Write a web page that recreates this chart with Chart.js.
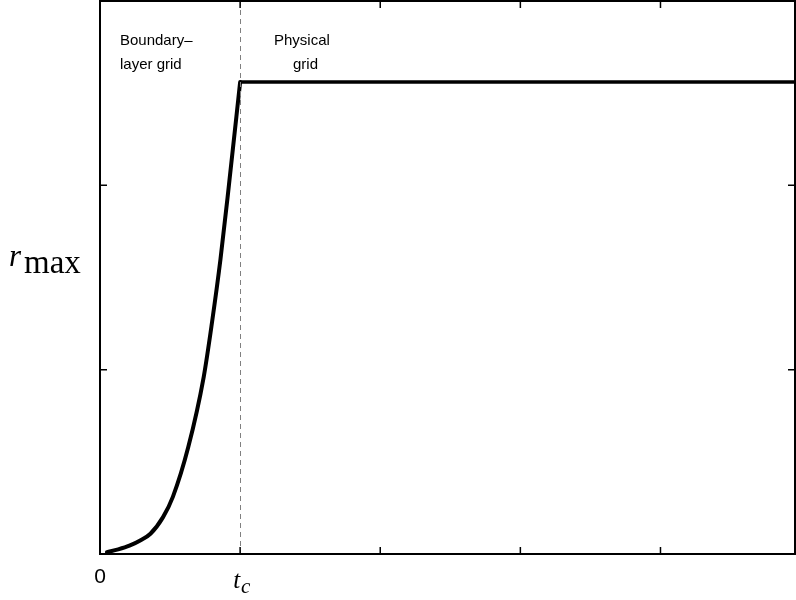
<!DOCTYPE html>
<html>
<head>
<meta charset="utf-8">
<script src="https://cdn.jsdelivr.net/npm/chart.js@4.4.1/dist/chart.umd.min.js"></script>
<style>
  html, body { margin: 0; padding: 0; background: #fff; }
  #wrap { width: 796px; height: 600px; }
</style>
</head>
<body>
<div id="wrap"><canvas id="rmax-chart" width="796" height="600"></canvas></div>
<script>
// rise of r_max on the boundary-layer grid
const riseT = [0.05, 0.13, 0.21, 0.29, 0.36, 0.45, 0.52, 0.63, 0.74, 0.80, 0.86, 0.92, 1.0];
const riseR = [0.01, 0.025, 0.045, 0.075, 0.11, 0.20, 0.31, 0.58, 0.96, 1.26, 1.60, 2.00, 2.56];
// flat part on the physical grid
const plateauT = [1.0, 4.96];
const plateauR = [2.56, 2.56];
// axes
const xTicks = [1, 2, 3, 4];
const yTicks = [1, 2];
const xTickLabels = [{ value: 0, text: '0' }, { value: 1, text: 't', sub: 'c' }];
const tc = 1;

document.addEventListener('DOMContentLoaded', function () {
    const ctxEl = document.getElementById('rmax-chart');

    const framePlugin = {
        id: 'frame',
        afterDraw(chart) {
            const ctx = chart.ctx;
            const area = chart.chartArea;
            const xs = chart.scales.x;
            const ys = chart.scales.y;
            ctx.save();

            // dashed line at t_c
            const xc = Math.round(xs.getPixelForValue(tc)) + 0.5;
            ctx.strokeStyle = '#808080';
            ctx.lineWidth = 1;
            ctx.setLineDash([5, 4]);
            ctx.beginPath();
            ctx.moveTo(xc, area.top);
            ctx.lineTo(xc, area.bottom);
            ctx.stroke();
            ctx.setLineDash([]);

            // box
            ctx.strokeStyle = '#000';
            ctx.lineWidth = 2;
            ctx.strokeRect(area.left, area.top, area.right - area.left, area.bottom - area.top);

            // inward ticks on all sides
            ctx.lineWidth = 1.5;
            const len = 7;
            ctx.beginPath();
            xTicks.forEach(v => {
                const px = xs.getPixelForValue(v);
                ctx.moveTo(px, area.bottom);
                ctx.lineTo(px, area.bottom - len);
                ctx.moveTo(px, area.top);
                ctx.lineTo(px, area.top + len);
            });
            yTicks.forEach(v => {
                const py = ys.getPixelForValue(v);
                ctx.moveTo(area.left, py);
                ctx.lineTo(area.left + len, py);
                ctx.moveTo(area.right, py);
                ctx.lineTo(area.right - len, py);
            });
            ctx.stroke();

            // x tick labels
            ctx.fillStyle = '#000';
            ctx.textBaseline = 'alphabetic';
            xTickLabels.forEach(l => {
                const px = xs.getPixelForValue(l.value);
                if (l.sub) {
                    ctx.font = 'italic 25px "Liberation Serif", "DejaVu Serif", serif';
                    ctx.textAlign = 'right';
                    ctx.fillText(l.text, px, area.bottom + 34);
                    ctx.font = 'italic 21px "Liberation Serif", "DejaVu Serif", serif';
                    ctx.textAlign = 'left';
                    ctx.fillText(l.sub, px + 1, area.bottom + 39);
                } else {
                    ctx.font = '21px "Liberation Sans", Arial, sans-serif';
                    ctx.textAlign = 'center';
                    ctx.fillText(l.text, px, area.bottom + 29);
                }
            });

            // y axis title r_max
            ctx.textAlign = 'left';
            ctx.font = 'italic 31px "Liberation Serif", "DejaVu Serif", serif';
            ctx.fillText('r', 9, 266);
            ctx.font = '33px "Liberation Serif", "DejaVu Serif", serif';
            ctx.fillText('max', 24, 273);

            // region notes
            ctx.font = '15px "Liberation Sans", Arial, sans-serif';
            ctx.fillText('Boundary\u2013', 120, 45);
            ctx.fillText('layer grid', 120, 69);
            ctx.fillText('Physical', 274, 45);
            ctx.fillText('grid', 293, 69);

            ctx.restore();
        }
    };

    new Chart(ctxEl, {
        type: 'line',
        data: {
            datasets: [{
                label: 'boundary-layer grid',
                data: riseT.map((t, i) => ({ x: t, y: riseR[i] })),
                borderColor: '#000',
                borderWidth: 4,
                pointRadius: 0,
                cubicInterpolationMode: 'monotone',
                borderCapStyle: 'round',
                fill: false
            }, {
                label: 'physical grid',
                data: plateauT.map((t, i) => ({ x: t, y: plateauR[i] })),
                borderColor: '#000',
                borderWidth: 3.5,
                pointRadius: 0,
                tension: 0,
                fill: false
            }]
        },
        options: {
            responsive: false,
            animation: false,
            layout: {
                padding: { left: 100, right: 1, top: 1, bottom: 46 }
            },
            plugins: {
                legend: { display: false },
                tooltip: { enabled: false }
            },
            scales: {
                x: { type: 'linear', min: 0, max: 4.96, display: false },
                y: { type: 'linear', min: 0, max: 3, display: false }
            }
        },
        plugins: [framePlugin]
    });
});
</script>
</body>
</html>
